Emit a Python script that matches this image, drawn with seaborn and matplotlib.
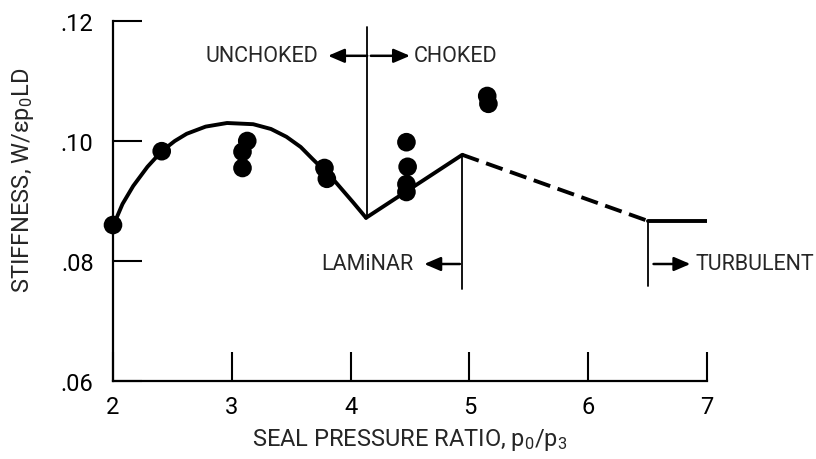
import matplotlib
matplotlib.use("Agg")
import matplotlib.pyplot as plt
import seaborn as sns
from matplotlib import font_manager

# ---- data ----
curve_x = [2.00, 2.08, 2.17, 2.29, 2.41, 2.52, 2.62, 2.78, 2.96, 3.18, 3.33, 3.46, 3.58, 3.68, 3.85, 4.02, 4.13]
curve_y = [0.0858, 0.0895, 0.0925, 0.0957, 0.0983, 0.1000, 0.1012, 0.1024, 0.1030, 0.1028, 0.1020, 0.1007, 0.0990, 0.0970, 0.0937, 0.0898, 0.0872]
choked_x = [4.13, 4.94]
choked_y = [0.0872, 0.0977]
transition_x = [4.94, 6.50]
transition_y = [0.0977, 0.0867]
turbulent_x = [6.50, 7.00]
turbulent_y = [0.0867, 0.0867]

data_x = [2.00, 2.41, 3.13, 3.09, 3.09, 3.78, 3.80, 4.47, 4.48, 4.47, 4.47, 5.15, 5.16]
data_y = [0.0860, 0.0983, 0.1000, 0.0982, 0.0955, 0.0955, 0.0937, 0.0998, 0.0957, 0.0928, 0.0915, 0.1075, 0.1062]

x_ticks = [2, 3, 4, 5, 6, 7]
y_ticks = [0.06, 0.08, 0.10, 0.12]
y_tick_labels = [".06", ".08", ".10", ".12"]

choke_boundary = 4.14
laminar_boundary = 4.94
turbulent_boundary = 6.50

# ---- style ----
sns.set_style("ticks")
fam = "Roboto"
plt.rcParams["font.family"] = [fam, "DejaVu Sans"]
plt.rcParams["mathtext.fontset"] = "custom"
plt.rcParams["mathtext.rm"] = fam
plt.rcParams["mathtext.it"] = fam
plt.rcParams["mathtext.bf"] = fam
fs = 17      # axis text
fa = 15.5    # annotation text

fig = plt.figure(figsize=(8.16, 4.6), dpi=100)
ax = fig.add_axes([113/816, 1-382/460, (707-113)/816, 360/460])

lw = 2.8
sns.lineplot(x=curve_x, y=curve_y, ax=ax, color="black", lw=lw, sort=False)
sns.lineplot(x=choked_x, y=choked_y, ax=ax, color="black", lw=lw, sort=False)
sns.lineplot(x=transition_x, y=transition_y, ax=ax, color="black", lw=lw, sort=False,
             linestyle=(0, (4.5, 2.0)))
sns.lineplot(x=turbulent_x, y=turbulent_y, ax=ax, color="black", lw=lw, sort=False)

sns.scatterplot(x=data_x, y=data_y, ax=ax, color="black", s=180, edgecolor="none", zorder=5)
for c in ax.collections:
    c.set_clip_on(False)

# boundary lines
blw = 1.3
ax.plot([choke_boundary, choke_boundary], [0.1190, 0.0872], color="black", lw=blw)
ax.plot([laminar_boundary, laminar_boundary], [0.0977, 0.0753], color="black", lw=blw)
ax.plot([turbulent_boundary, turbulent_boundary], [0.0867, 0.0758], color="black", lw=blw)

ap = dict(arrowstyle="-|>,head_length=0.7,head_width=0.3", color="black", lw=1.8,
          mutation_scale=14, shrinkA=0, shrinkB=0)
ya = 0.1142
ax.annotate("", xy=(3.81, ya), xytext=(choke_boundary, ya), arrowprops=ap)
ax.text(3.73, ya, "UNCHOKED", ha="right", va="center", fontsize=fa)
ax.annotate("", xy=(4.50, ya), xytext=(choke_boundary + 0.03, ya), arrowprops=ap)
ax.text(4.53, ya, "CHOKED", ha="left", va="center", fontsize=fa)

yb = 0.0795
ax.annotate("", xy=(4.62, yb), xytext=(laminar_boundary - 0.02, yb), arrowprops=ap)
ax.text(4.53, yb, "LAMiNAR", ha="right", va="center", fontsize=fa)
ax.annotate("", xy=(6.86, yb), xytext=(turbulent_boundary + 0.05, yb), arrowprops=ap)
ax.text(6.90, yb, "TURBULENT", ha="left", va="center", fontsize=fa)

ax.set_xlim(2, 7)
ax.set_ylim(0.06, 0.12)
ax.set_xticks(x_ticks)
ax.set_xticklabels([str(t) for t in x_ticks])
ax.set_yticks(y_ticks)
ax.set_yticklabels(y_tick_labels)
ax.tick_params(axis="both", direction="in", length=21, width=1.5, labelsize=fs, colors="black")
ax.tick_params(axis="y", pad=14)
ax.tick_params(axis="x", pad=10)
for s in ["top", "right"]:
    ax.spines[s].set_visible(False)
for s in ["left", "bottom"]:
    ax.spines[s].set_linewidth(1.6)
    ax.spines[s].set_color("black")

ax.set_xlabel(r"SEAL PRESSURE RATIO, $\mathrm{p_0/p_3}$", fontsize=fs, labelpad=6)
ax.set_ylabel(r"STIFFNESS, W/$\epsilon\mathrm{p_0}$LD", fontsize=fs)
ax.yaxis.set_label_coords(-0.13, 0.56)

fig.savefig("out.png", dpi=100, facecolor="white")
